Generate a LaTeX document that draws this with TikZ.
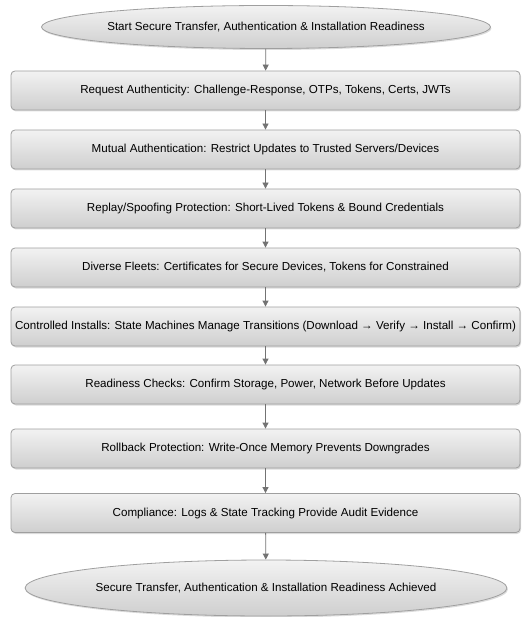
\documentclass[tikz,border=0pt]{standalone}
\usepackage{fontspec}
\setmainfont{Liberation Sans}
\usetikzlibrary{shapes.geometric,shadows,arrows.meta}

\tikzset{
  stagebox/.style={draw=gray!75, line width=0.8pt, rounded corners=4pt,
    top color=gray!10, bottom color=gray!38, minimum width=509pt,
    minimum height=39pt, inner sep=0pt, font=\fontsize{11.6}{13}\selectfont,
    drop shadow={shadow xshift=1pt, shadow yshift=-1.5pt, opacity=0.35, fill=gray!80}},
  terminal/.style={ellipse, draw=gray!75, line width=0.8pt,
    top color=gray!10, bottom color=gray!38, inner sep=0pt,
    font=\fontsize{11.6}{13}\selectfont,
    drop shadow={shadow xshift=1pt, shadow yshift=-1.5pt, opacity=0.35, fill=gray!80}},
  flow/.style={draw=gray!90!black, line width=0.8pt,
    -{Triangle[width=6pt,length=6pt]}}
}

\begin{document}
\begin{tikzpicture}[x=1pt,y=-1pt]
\useasboundingbox (0,0) rectangle (521,617);

\node[terminal, minimum width=356pt, minimum height=43pt] (start) at (266,27)
  {Start Secure Transfer, Authentication \& Installation Readiness};

\node[stagebox] (s1) at (265.5,90.5)
  {Request Authenticity: Challenge-Response, OTPs, Tokens, Certs, JWTs};
\node[stagebox] (s2) at (265.5,149.5)
  {Mutual Authentication: Restrict Updates to Trusted Servers/Devices};
\node[stagebox] (s3) at (265.5,208.5)
  {Replay/Spoofing Protection: Short-Lived Tokens \& Bound Credentials};
\node[stagebox] (s4) at (265.5,267.5)
  {Diverse Fleets: Certificates for Secure Devices, Tokens for Constrained};
\node[stagebox] (s5) at (265.5,326.5)
  {Controlled Installs: State Machines Manage Transitions (Download → Verify → Install → Confirm)};
\node[stagebox] (s6) at (265.5,384.5)
  {Readiness Checks: Confirm Storage, Power, Network Before Updates};
\node[stagebox] (s7) at (265.5,448.5)
  {Rollback Protection: Write-Once Memory Prevents Downgrades};
\node[stagebox] (s8) at (265.5,513)
  {Compliance: Logs \& State Tracking Provide Audit Evidence};

\node[terminal, minimum width=412pt, minimum height=56pt] (done) at (266,588)
  {Secure Transfer, Authentication \& Installation Readiness Achieved};

\draw[flow] (start) -- (s1);
\draw[flow] (s1) -- (s2);
\draw[flow] (s2) -- (s3);
\draw[flow] (s3) -- (s4);
\draw[flow] (s4) -- (s5);
\draw[flow] (s5) -- (s6);
\draw[flow] (s6) -- (s7);
\draw[flow] (s7) -- (s8);
\draw[flow] (s8) -- (done);
\end{tikzpicture}
\end{document}
